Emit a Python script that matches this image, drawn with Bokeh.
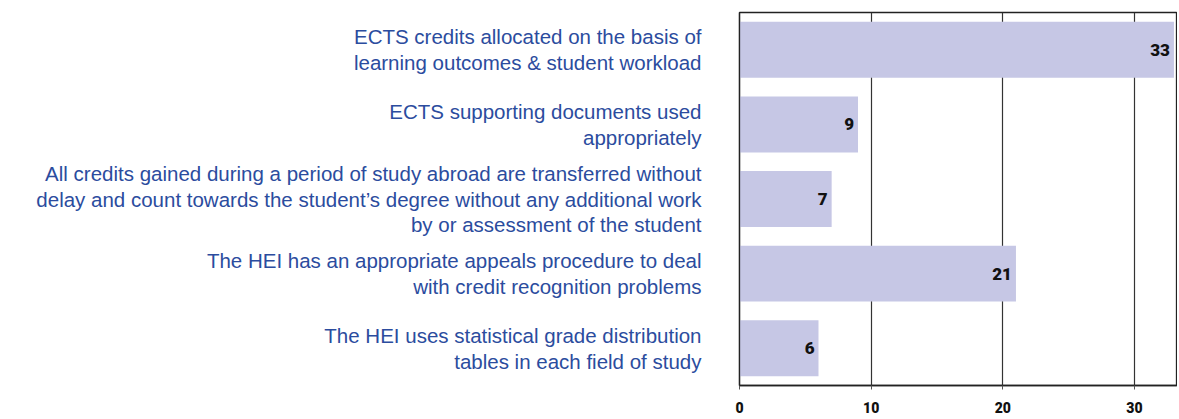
from bokeh.plotting import figure
from bokeh.models import ColumnDataSource, FactorRange, FixedTicker
from bokeh.core.properties import value
from bokeh.embed import file_html
from bokeh.resources import INLINE

categories = [
    "ECTS credits allocated on the basis of\nlearning outcomes & student workload",
    "ECTS supporting documents used\nappropriately",
    "All credits gained during a period of study abroad are transferred without\ndelay and count towards the student\u2019s degree without any additional work\nby or assessment of the student",
    "The HEI has an appropriate appeals procedure to deal\nwith credit recognition problems",
    "The HEI uses statistical grade distribution\ntables in each field of study",
]
values = [33, 9, 7, 21, 6]
labels = [str(v) for v in values]
x_ticks = [0, 10, 20, 30]

src = ColumnDataSource(dict(cat=categories, val=values, lab=labels))

p = figure(
    width=1177, height=418,
    y_range=FactorRange(*reversed(categories)),
    x_range=(0, 33.27),
    output_backend="svg", toolbar_location=None,
    min_border_left=739, min_border_right=0, min_border_top=12, min_border_bottom=33,
)
p.outline_line_color = "#222222"
p.outline_line_width = 1.3
p.background_fill_color = "white"

p.hbar(y="cat", right="val", height=0.75, source=src,
       fill_color="#C6C7E5", line_color=None)

p.text(x="val", y="cat", text="lab", source=src,
       text_align="right", text_baseline="middle", x_offset=-4,
       text_font=value("Roboto Black"), text_font_style="normal",
       text_font_size="17px", text_color="#111111")

p.xgrid.ticker = FixedTicker(ticks=x_ticks)
p.xgrid.grid_line_color = "#333333"
p.xgrid.grid_line_width = 1.2
p.ygrid.grid_line_color = None

xa = p.below[0]
xa.ticker = FixedTicker(ticks=x_ticks)
xa.axis_line_color = "#222222"
xa.axis_line_width = 1.3
xa.major_tick_out = 4
xa.major_tick_in = 0
xa.major_tick_line_color = "#555555"
xa.minor_tick_line_color = None
xa.major_label_standoff = 12
xa.major_label_text_font = "Roboto Black"
xa.major_label_text_font_style = "normal"
xa.major_label_text_font_size = "14px"
xa.major_label_text_color = "#111111"

ya = p.left[0]
ya.axis_line_color = "#222222"
ya.axis_line_width = 1.3
ya.major_tick_line_color = None
ya.major_tick_out = 0
ya.major_tick_in = 0
ya.minor_tick_line_color = None
ya.major_label_standoff = 38
ya.major_label_text_font = "Liberation Sans"
ya.major_label_text_font_size = "20.5px"
ya.major_label_text_color = "#2B4C9E"
ya.major_label_text_line_height = 1.13
ya.major_label_text_align = "right"

open("out.html", "w").write(file_html(p, INLINE))
